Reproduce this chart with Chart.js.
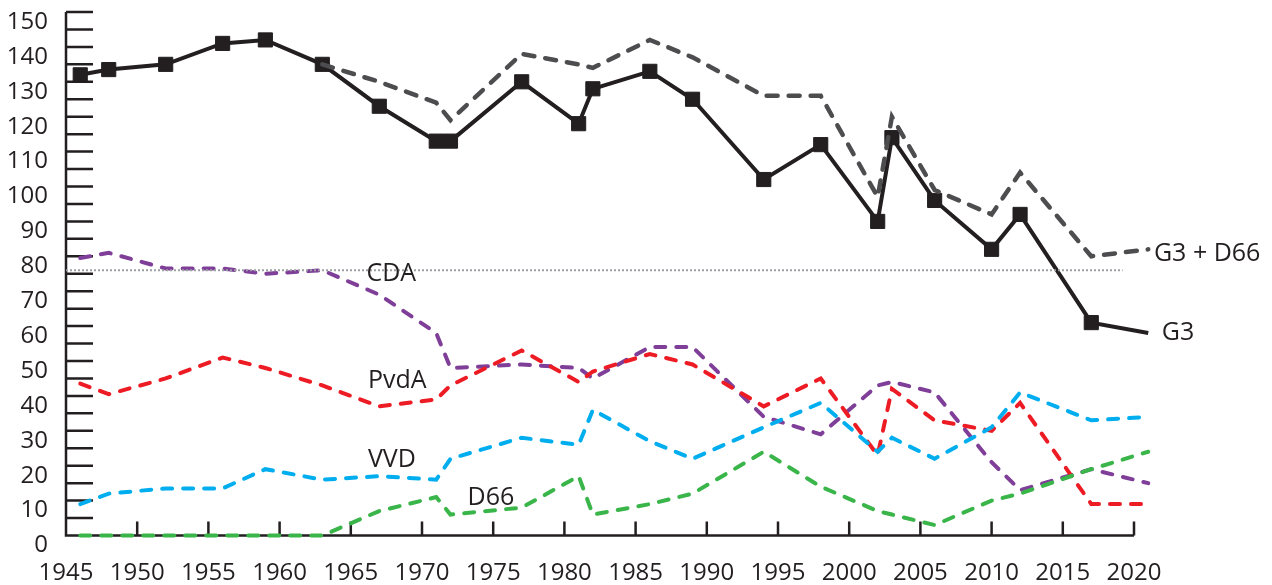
<!DOCTYPE html>
<html>
<head>
<meta charset="utf-8">
<script src="https://cdn.jsdelivr.net/npm/chart.js@4"></script>
<style>
  html, body { margin: 0; padding: 0; background: #fff; }
  #wrap { width: 1272px; height: 585px; }
</style>
</head>
<body>
<div id="wrap"><canvas id="chart"></canvas></div>
<script>
// seats (pre-1956 scaled to 150)
const years = [1946, 1948, 1952, 1956, 1959, 1963, 1967, 1971, 1972, 1977, 1981, 1982, 1986, 1989, 1994, 1998, 2002, 2003, 2006, 2010, 2012, 2017, 2021];
const g3   = [132, 133.5, 135, 141, 142, 135, 123, 113, 113, 130, 118, 128, 133, 125, 102, 112, 90, 114, 96, 82, 92, 61, 58];
const cda  = [79.5, 81, 76.5, 76.5, 75, 76, 69, 58, 48, 49, 48, 45, 54, 54, 34, 29, 43, 44, 41, 21, 13, 19, 15];
const pvda = [43.5, 40.5, 45, 51, 48, 43, 37, 39, 43, 53, 44, 47, 52, 49, 37, 45, 23, 42, 33, 30, 38, 9, 9];
const vvd  = [9, 12, 13.5, 13.5, 19, 16, 17, 16, 22, 28, 26, 36, 27, 22, 31, 38, 24, 28, 22, 31, 41, 33, 34];
const d66  = [0, 0, 0, 0, 0, 0, 7, 11, 6, 8, 17, 6, 9, 12, 24, 14, 7, 6, 3, 10, 12, 19, 24];

const g3d66Years = [1963, 1967, 1971, 1972, 1977, 1981, 1982, 1986, 1989, 1994, 1998, 2002, 2003, 2006, 2010, 2012, 2017, 2021];
const g3d66 = [135, 130, 124, 119, 138, 135, 134, 142, 137, 126, 126, 97, 120, 99, 92, 104, 80, 82];

const majorityYears = [1945, 2019.2];
const majority = [76, 76];

// series labels: [text, year, value]
const seriesLabels = [
  ['CDA', 1966.1, 74.9],
  ['PvdA', 1966.2, 44.2],
  ['VVD', 1966.2, 21.7],
  ['D66', 1973.2, 10.7],
  ['G3 + D66', 2021.4, 80.6],
  ['G3', 2021.95, 58.1]
];

const ink = '#231f20';
const font = 'Open Sans';

const pts = (xs, ys) => xs.map((x, i) => ({ x: x, y: ys[i] }));

const dashed = (label, xs, ys, color, width, dash) => ({
  label: label,
  data: pts(xs, ys),
  borderColor: color,
  borderWidth: width,
  borderDash: dash,
  borderCapStyle: 'round',
  pointRadius: 0,
  tension: 0,
  clip: false
});

const axesPlugin = {
  id: 'axes',
  beforeDatasetsDraw(chart) {
    const ctx = chart.ctx;
    const xs = chart.scales.x, ys = chart.scales.y;
    const x0 = xs.getPixelForValue(1945), x1 = xs.getPixelForValue(2020);
    const y0 = ys.getPixelForValue(0), y1 = ys.getPixelForValue(150);
    ctx.save();
    ctx.strokeStyle = ink;
    ctx.lineWidth = 2.5;
    ctx.beginPath();
    ctx.moveTo(x0, y1);
    ctx.lineTo(x0, y0);
    ctx.lineTo(x1, y0);
    for (let v = 5; v <= 150; v += 5) {
      const y = ys.getPixelForValue(v);
      ctx.moveTo(x0, y);
      ctx.lineTo(x0 + 27, y);
    }
    for (let yr = 1950; yr <= 2020; yr += 5) {
      const x = xs.getPixelForValue(yr);
      ctx.moveTo(x, y0);
      ctx.lineTo(x, y0 - 14);
    }
    ctx.stroke();
    ctx.restore();
  },
  afterDatasetsDraw(chart) {
    const ctx = chart.ctx;
    const xs = chart.scales.x, ys = chart.scales.y;
    ctx.save();
    ctx.fillStyle = ink;
    ctx.font = '25px "' + font + '"';
    ctx.textAlign = 'left';
    ctx.textBaseline = 'middle';
    seriesLabels.forEach(([t, x, y]) => {
      ctx.fillText(t, xs.getPixelForValue(x), ys.getPixelForValue(y));
    });
    ctx.restore();
  }
};

new Chart(document.getElementById('chart'), {
  type: 'line',
  data: {
    datasets: [
      {
        label: 'meerderheid',
        data: pts(majorityYears, majority),
        borderColor: '#9d9fa2',
        borderWidth: 2,
        borderDash: [2, 2],
        pointRadius: 0
      },
      dashed('D66', years, d66, '#3ab54a', 4, [10, 11]),
      dashed('VVD', years, vvd, '#00aeef', 4, [10, 11]),
      dashed('PvdA', years, pvda, '#ed1c24', 4, [10, 11]),
      dashed('CDA', years, cda, '#7f3f98', 4, [10, 11]),
      dashed('G3 + D66', g3d66Years, g3d66, '#4d4d4f', 4.5, [11, 11]),
      {
        label: 'G3',
        data: pts(years, g3),
        borderColor: ink,
        borderWidth: 4,
        pointStyle: 'rect',
        pointRadius: 10,
        pointBorderWidth: 1,
        pointBackgroundColor: ink,
        pointBorderColor: ink,
        tension: 0,
        clip: false
      }
    ]
  },
  options: {
    responsive: true,
    maintainAspectRatio: false,
    animation: false,
    events: [],
    layout: { padding: { top: 12, right: 138, left: 0, bottom: 0 } },
    plugins: { legend: { display: false }, tooltip: { enabled: false } },
    scales: {
      x: {
        type: 'linear',
        min: 1945,
        max: 2020,
        border: { display: false },
        grid: { display: false, drawTicks: false },
        ticks: {
          stepSize: 5,
          autoSkip: false,
          maxRotation: 0,
          padding: 23,
          color: ink,
          font: { family: font, size: 24 },
          callback: v => String(v)
        },
        afterFit(s) { s.height = 49.5; s.paddingLeft = 0; s.paddingRight = 0; }
      },
      y: {
        min: 0,
        max: 150,
        border: { display: false },
        grid: { display: false, drawTicks: false },
        ticks: {
          stepSize: 10,
          labelOffset: 10,
          padding: 18,
          color: ink,
          font: { family: font, size: 24 }
        },
        afterFit(s) { s.width = 66; s.paddingTop = 0; s.paddingBottom = 0; }
      }
    }
  },
  plugins: [axesPlugin]
});
</script>
</body>
</html>
